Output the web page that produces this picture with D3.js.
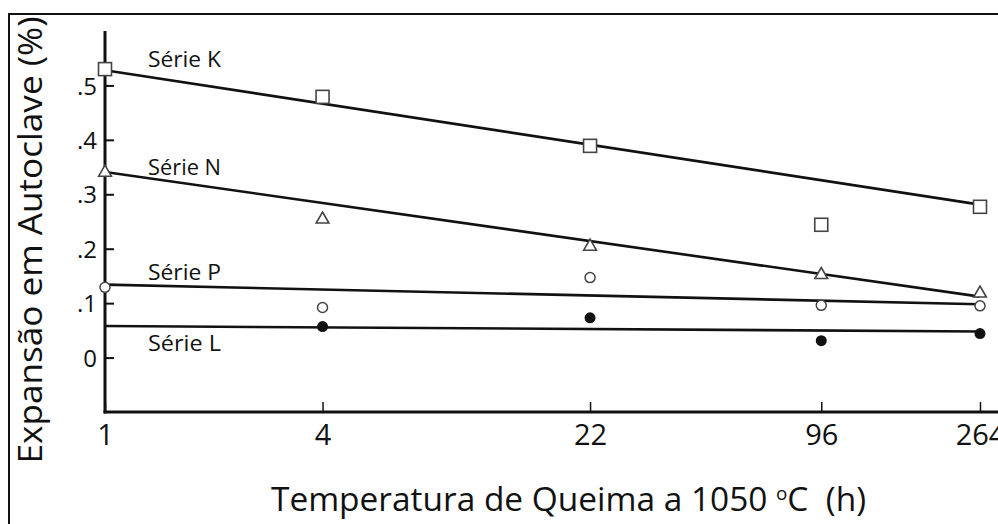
<!DOCTYPE html>
<html>
<head>
<meta charset="utf-8">
<script src="https://cdn.jsdelivr.net/npm/d3@7"></script>
<style>
  html, body { margin: 0; padding: 0; background: #fff; }
  svg { display: block; }
  text { font-family: "Open Sans", "Noto Sans", sans-serif; fill: #111; }
</style>
</head>
<body>
<div id="chart"></div>
<script>
// Firing time (h) at each measurement point
const hours = [1, 4, 22, 96, 264];
const hourLabels = ["1", "4", "22", "96", "264"];

// Autoclave expansion (%) per series, one value per firing time
const serieK = [0.530, 0.479, 0.389, 0.244, 0.277];
const serieN = [0.340, 0.254, 0.204, 0.152, 0.118];
const serieP = [0.129, 0.092, 0.147, 0.096, 0.095];
const serieL = [null, 0.057, 0.073, 0.031, 0.044];

// Fitted trend lines: value at 1 h and at 264 h
const fitK = [0.528, 0.281];
const fitN = [0.341, 0.112];
const fitP = [0.134, 0.098];
const fitL = [0.058, 0.048];

// Y axis ticks
const yTicks = [0, 0.1, 0.2, 0.3, 0.4, 0.5];
const yTickLabels = ["0", ".1", ".2", ".3", ".4", ".5"];

const seriesNames = ["Série K", "Série N", "Série P", "Série L"];

const W = 998, H = 524;
const svg = d3.select("#chart").append("svg").attr("width", W).attr("height", H);

// Outer frame (top and left edges)
svg.append("path")
  .attr("d", "M9,524 L9,14 L998,14")
  .attr("fill", "none").attr("stroke", "#111").attr("stroke-width", 2);

const x = d3.scaleLog().domain([1, 264]).range([105, 980]);
const y = d3.scaleLinear().domain([-0.1, 0.6]).range([412, 31]);

// Y axis
const yAxis = d3.axisLeft(y)
  .tickValues(yTicks)
  .tickFormat((d, i) => yTickLabels[i])
  .tickSizeInner(-9).tickSizeOuter(0).tickPadding(8);
const gy = svg.append("g").attr("transform", `translate(${x(1)},0)`).call(yAxis);
gy.select(".domain").remove();
gy.selectAll(".tick line").attr("stroke", "#111").attr("stroke-width", 2);
gy.selectAll(".tick text").style("font-size", "24px").attr("fill", "#111").attr("dy", "0.36em");

// X axis
const xAxis = d3.axisBottom(x)
  .tickValues(hours)
  .tickFormat((d, i) => hourLabels[i])
  .tickSizeInner(-10).tickSizeOuter(0).tickPadding(12);
const gx = svg.append("g").attr("transform", `translate(0,${y(-0.1)})`).call(xAxis);
gx.select(".domain").remove();
gx.selectAll(".tick line").attr("stroke", "#111").attr("stroke-width", 1.5);
gx.selectAll(".tick text").style("font-size", "29px").attr("fill", "#111");

// Axis lines
svg.append("line")
  .attr("x1", x(1)).attr("x2", x(1))
  .attr("y1", y(-0.1) + 1.5).attr("y2", y(0.6))
  .attr("stroke", "#111").attr("stroke-width", 3);
svg.append("line")
  .attr("x1", x(1) - 1.5).attr("x2", W)
  .attr("y1", y(-0.1)).attr("y2", y(-0.1))
  .attr("stroke", "#111").attr("stroke-width", 3);

// Trend lines
const fits = [fitK, fitN, fitP, fitL];
const ends = [hours[0], hours[hours.length - 1]];
svg.append("g").selectAll("line").data(fits).join("line")
  .attr("x1", x(ends[0])).attr("x2", x(ends[1]))
  .attr("y1", d => y(d[0])).attr("y2", d => y(d[1]))
  .attr("stroke", "#111").attr("stroke-width", 2.6);

// Series labels
const labelRows = [
  { name: seriesNames[0], v: fitK[0] },
  { name: seriesNames[1], v: fitN[0] },
  { name: seriesNames[2], v: fitP[0] },
  { name: seriesNames[3], v: fitL[0] }
];
const labelOffsets = [-3, 3, -5, 25];
svg.append("g").selectAll("text").data(labelRows).join("text")
  .attr("x", 148)
  .attr("y", (d, i) => y(d.v) + labelOffsets[i])
  .attr("textLength", 73).attr("lengthAdjust", "spacingAndGlyphs")
  .style("font-size", "21px")
  .text(d => d.name);

const pts = (vals) => hours.map((h, i) => ({ h, v: vals[i] })).filter(d => d.v != null);
const markStroke = "#444";

// Série K: open squares
svg.append("g").selectAll("rect").data(pts(serieK)).join("rect")
  .attr("x", d => x(d.h) - 6.5).attr("y", d => y(d.v) - 6.5)
  .attr("width", 13).attr("height", 13)
  .attr("fill", "#fff").attr("stroke", markStroke).attr("stroke-width", 1.6);

// Série N: open triangles
const tri = d3.symbol().type(d3.symbolTriangle).size(70);
svg.append("g").selectAll("path").data(pts(serieN)).join("path")
  .attr("d", tri)
  .attr("transform", d => `translate(${x(d.h)},${y(d.v)})`)
  .attr("fill", "#fff").attr("stroke", markStroke).attr("stroke-width", 1.6);

// Série P: open circles
svg.append("g").selectAll("circle").data(pts(serieP)).join("circle")
  .attr("cx", d => x(d.h)).attr("cy", d => y(d.v)).attr("r", 5)
  .attr("fill", "#fff").attr("stroke", markStroke).attr("stroke-width", 1.5);

// Série L: filled circles
svg.append("g").selectAll("circle").data(pts(serieL)).join("circle")
  .attr("cx", d => x(d.h)).attr("cy", d => y(d.v)).attr("r", 5.5)
  .attr("fill", "#111");

// Axis titles
svg.append("text")
  .attr("transform", `translate(42,240) rotate(-90)`)
  .attr("text-anchor", "middle")
  .attr("textLength", 447).attr("lengthAdjust", "spacingAndGlyphs")
  .style("font-size", "32px")
  .text("Expansão em Autoclave (%)");

const xt = svg.append("text")
  .attr("x", 271).attr("y", 511)
  .attr("textLength", 595).attr("lengthAdjust", "spacingAndGlyphs")
  .style("white-space", "pre")
  .style("font-size", "32px");
xt.append("tspan").text("Temperatura de Queima a 1050 ");
xt.append("tspan").attr("dy", -11).style("font-size", "18px").text("o");
xt.append("tspan").attr("dy", 11).text("C  (h)");
</script>
</body>
</html>
